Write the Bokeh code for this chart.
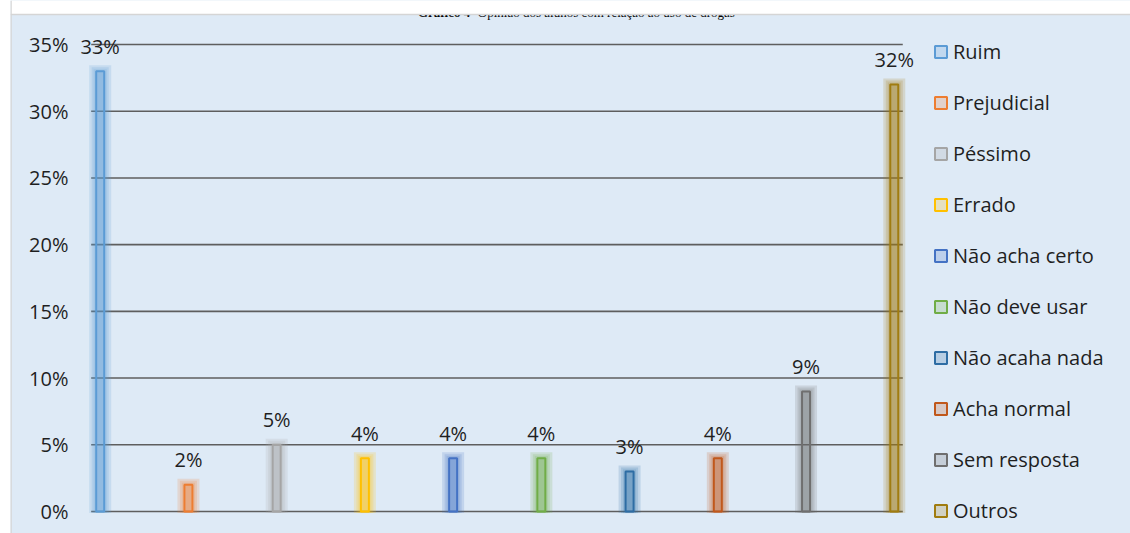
from bokeh.plotting import figure
from bokeh.models import (Range1d, FixedTicker, PrintfTickFormatter, Legend, LegendItem,
                          BoxAnnotation, Span, ColumnDataSource)
from bokeh.embed import file_html
from bokeh.resources import INLINE
from bokeh.core.properties import value

# ---------------- data ----------------
categories = ["Ruim", "Prejudicial", "Péssimo", "Errado", "Não acha certo",
              "Não deve usar", "Não acaha nada", "Acha normal", "Sem resposta", "Outros"]
percentages = [33, 2, 5, 4, 4, 4, 3, 4, 9, 32]
colors = ["#5B9BD5", "#ED7D31", "#A5A5A5", "#FFC000", "#4472C4",
          "#70AD47", "#2E6DA4", "#C0581C", "#6F6F6F", "#A07C10"]
y_ticks = [0, 5, 10, 15, 20, 25, 30, 35]
title_bold = "Gráfico 4"
title_rest = " - Opinião dos alunos com relação ao uso de drogas"

# ---------------- layout constants ----------------
W, H = 1130, 533
LEFT = 10          # frame left edge (px) = left edge of the chart box
LABEL_RIGHT = 68   # right edge of the y tick labels (px)
X0_PX = 99.7       # pixel of first category
PX_X = 88.23       # px per category step
BASE_PX = 511      # pixel of 0 %
PX_Y = 13.343      # px per percentage point
BOX_TOP = 14       # top edge of the chart box (px)
BG = "#DEEAF6"
FONT = "Open Sans"


def dx(px):      # pixel distance -> x data distance
    return px / PX_X


def xd(px):      # pixel position -> x data
    return (px - X0_PX) / PX_X


def yd(px):      # pixel position -> y data
    return (BASE_PX - px) / PX_Y


p = figure(width=W, height=H, output_backend="svg", toolbar_location=None,
           x_range=Range1d(xd(LEFT), xd(W)), y_range=Range1d(yd(H), yd(0)),
           x_axis_location=None, title=None)
p.min_border_left = LEFT
p.min_border_right = 0
p.min_border_top = 0
p.min_border_bottom = 0
p.background_fill_color = BG
p.border_fill_color = "white"
p.outline_line_color = None
p.xgrid.visible = False
p.ygrid.visible = False

# y axis (labels drawn inside the chart box)
ax = p.yaxis[0]
ax.ticker = FixedTicker(ticks=y_ticks)
ax.formatter = PrintfTickFormatter(format="%d%%")
ax.axis_line_color = None
ax.major_tick_line_color = None
ax.minor_tick_line_color = None
ax.major_tick_out = 0
ax.major_tick_in = 0
ax.major_label_standoff = -(LABEL_RIGHT - LEFT)
ax.major_label_text_font = FONT
ax.major_label_text_font_size = "20px"
ax.major_label_text_color = "#1F1F1F"

n = len(categories)
idx = list(range(n))

# gridlines
p.segment(x0=[-dx(9)] * len(y_ticks), x1=[n - 1 + dx(8.5)] * len(y_ticks),
          y0=y_ticks, y1=y_ticks, line_color="#5E5E5E", line_width=1.6)

# glow
for k, w in [(6, 22), (4, 17), (2, 13)]:
    p.vbar(x=idx, top=[v + k / PX_Y for v in percentages], bottom=-0.12, width=dx(w),
           fill_color=colors, fill_alpha=0.18, line_color=None)

# bars
src = ColumnDataSource(dict(x=idx, top=percentages, color=colors, cat=categories))
bars = p.vbar(x="x", top="top", bottom=0, width=dx(8), source=src,
              fill_color="color", fill_alpha=0.22, line_color="color", line_width=2)

# data labels
p.text(x=idx, y=percentages, text=[f"{v}%" for v in percentages],
       text_align="center", text_baseline="middle", y_offset=-25,
       text_font=value(FONT), text_font_size="20px", text_color="#1F1F1F")

# legend
items = [LegendItem(label=c, renderers=[bars], index=i) for i, c in enumerate(categories)]
legend = Legend(items=items, location=(855 + 78 - LEFT, 9), orientation="vertical",
                glyph_width=15, glyph_height=15, label_height=15, spacing=24,
                label_standoff=5, padding=0, margin=0, border_line_color=None,
                background_fill_alpha=0, label_text_font=FONT,
                label_text_font_size="20px", label_text_color="#1F1F1F")
p.add_layout(legend)

# white strip above the chart box, box border, title
p.add_layout(BoxAnnotation(bottom=yd(BOX_TOP), fill_color="white", fill_alpha=1, line_color=None))
p.add_layout(Span(location=yd(BOX_TOP), dimension="width", line_color="#D5D5D5", line_width=1.5))
p.add_layout(Span(location=xd(LEFT + 0.5), dimension="height", line_color="#D5D5D5", line_width=1.5))
TS = 13  # title font size in px
bold_w = 4.027 * TS
rest_w = 20.607 * TS
t_start = 577.5 - (bold_w + rest_w) / 2
p.text(x=[xd(t_start), xd(t_start + bold_w)], y=[yd(12), yd(12)],
       text=[title_bold, title_rest], text_font_style=["bold", "normal"],
       text_align="left", text_baseline="alphabetic",
       text_font=value("Liberation Serif"), text_font_size=f"{TS}px", text_color="black")

open("out.html", "w").write(file_html(p, INLINE))
